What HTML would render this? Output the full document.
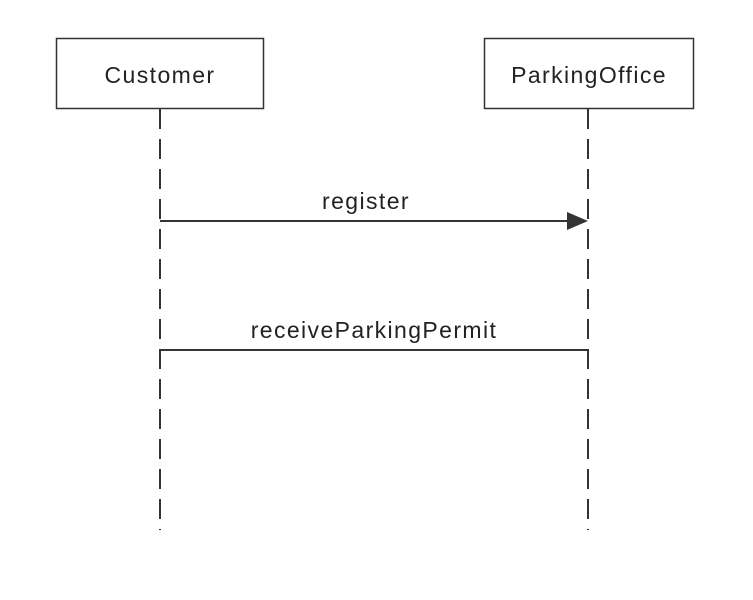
<!DOCTYPE html>
<html><head><style>body{margin:0;background:#fff}</style></head><body>
<svg width="753" height="595" xmlns="http://www.w3.org/2000/svg" font-family="Liberation Sans, sans-serif" fill="#222">
<rect x="56.5" y="38.5" width="207" height="70" fill="#fff" stroke="#333" stroke-width="1.5"/>
<rect x="484.5" y="38.5" width="209" height="70" fill="#fff" stroke="#333" stroke-width="1.5"/>
<text x="160" y="83" font-size="23" letter-spacing="1.4" text-anchor="middle">Customer</text>
<text x="589" y="83" font-size="23" letter-spacing="1.4" text-anchor="middle">ParkingOffice</text>
<line x1="160" y1="109" x2="160" y2="530" stroke="#333" stroke-width="2" stroke-dasharray="20,10"/>
<line x1="588" y1="109" x2="588" y2="530" stroke="#333" stroke-width="2" stroke-dasharray="20,10"/>
<line x1="160" y1="221" x2="570" y2="221" stroke="#333" stroke-width="2"/>
<polygon points="567,212 588,221 567,230" fill="#333"/>
<text x="366" y="209" font-size="23" letter-spacing="1.4" text-anchor="middle">register</text>
<line x1="160" y1="350" x2="588" y2="350" stroke="#333" stroke-width="2"/>
<text x="374" y="338" font-size="23" letter-spacing="1.4" text-anchor="middle">receiveParkingPermit</text>
</svg>
</body></html>
